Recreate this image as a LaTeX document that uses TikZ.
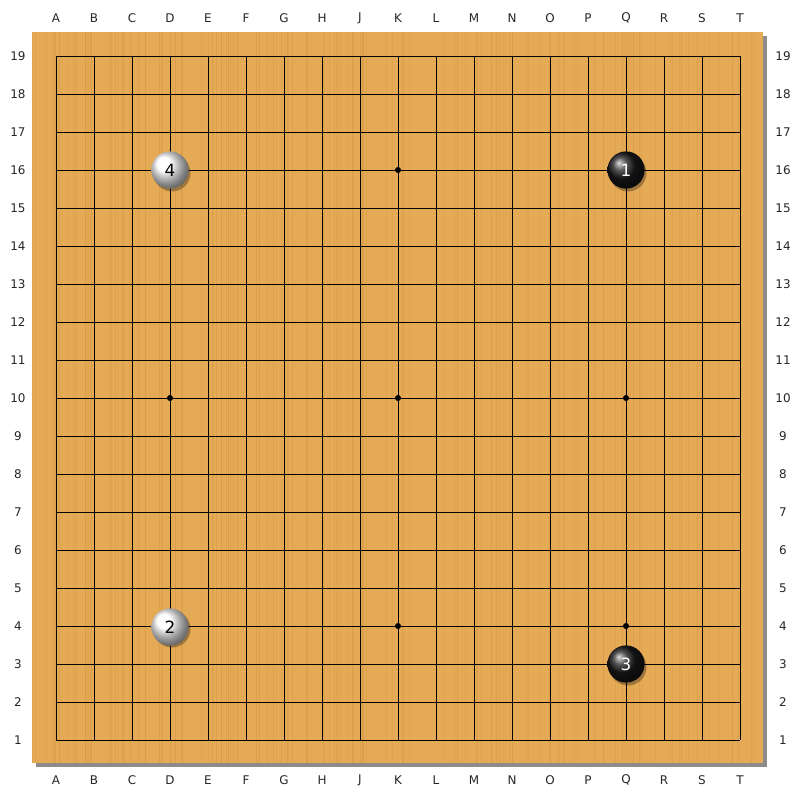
\documentclass[tikz,border=0pt]{standalone}
\usepackage{fontspec}
\setmainfont{DejaVu Sans}
\definecolor{boardwood}{RGB}{229,170,86}
\definecolor{woodgrain}{RGB}{210,148,62}
\definecolor{boardshadow}{RGB}{140,140,140}
\tikzset{
  coordlabel/.style={font=\fontsize{8.5}{9}\selectfont, text=black!85},
  hoshi/.style={circle, fill=black, inner sep=0pt, minimum size=4.3pt},
  stone/.style={circle, inner sep=0pt, minimum size=0.93cm, font=\fontsize{12}{13}\selectfont},
  blackstone/.style={stone, shading=ball, ball color=black!90, text=white},
  whitestone/.style={stone, shading=ball, ball color=white, text=black}
}
\begin{document}
\begin{tikzpicture}[x=0.025cm,y=-0.025cm]
\useasboundingbox (0,0) rectangle (800,800);
\fill[white] (0,0) rectangle (800,800);

% board with shadow
\fill[boardshadow] (36,36) rectangle (767,767);
\fill[boardwood] (32,32) rectangle (763,763);
\pgfmathsetseed{7}
\foreach \k in {1,...,140}{
  \pgfmathsetmacro{\gx}{32+731*rnd}
  \pgfmathsetmacro{\go}{0.15+0.3*rnd}
  \draw[woodgrain, opacity=\go, line width=0.6pt] (\gx,32) -- (\gx,763);
}

% grid
\foreach \i in {1,...,19}{
  \draw[line width=0.7pt] (18+38*\i,56) -- (18+38*\i,740);
  \draw[line width=0.7pt] (56,778-38*\i) -- (740,778-38*\i);
}

% coordinates
\foreach \c [count=\i] in {A,B,C,D,E,F,G,H,J,K,L,M,N,O,P,Q,R,S,T}{
  \node[coordlabel] (top-\c) at (18+38*\i,18) {\c};
  \node[coordlabel] (bot-\c) at (18+38*\i,780) {\c};
}
\foreach \j in {1,...,19}{
  \node[coordlabel] (left-\j) at (18,778-38*\j) {\j};
  \node[coordlabel] (right-\j) at (783,778-38*\j) {\j};
}

% star points
\foreach \i in {4,10,16}
  \foreach \j in {4,10,16}
    \node[hoshi] (star-\i-\j) at (18+38*\i,778-38*\j) {};

% stones
\foreach \p in {(628,173),(172,173),(628,667),(172,629)}
  \fill[black, opacity=0.3] \p circle (18.5);
\node[blackstone] (move1) at (626,170) {1};
\node[whitestone] (move2) at (170,627) {2};
\node[blackstone] (move3) at (626,664) {3};
\node[whitestone] (move4) at (170,170) {4};
\end{tikzpicture}
\end{document}
